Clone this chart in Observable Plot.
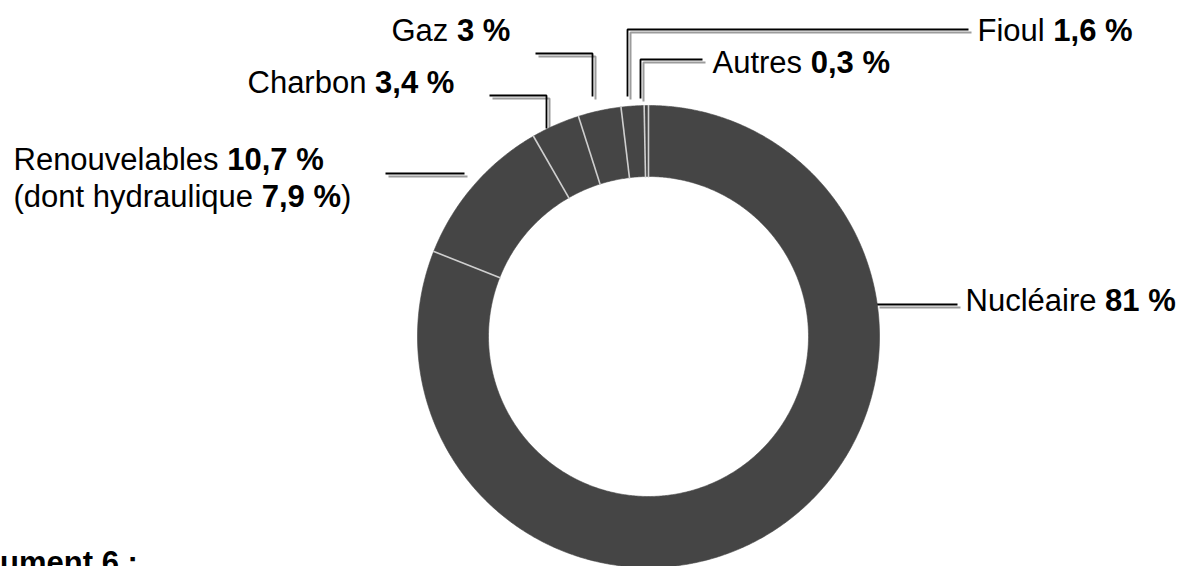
<!DOCTYPE html>
<html>
<head>
<meta charset="utf-8">
<script src="https://cdn.jsdelivr.net/npm/d3@7"></script>
<script src="https://cdn.jsdelivr.net/npm/@observablehq/plot@0.6"></script>
<style>
  html, body { margin: 0; padding: 0; background: #fff; }
  #chart svg { display: block; }
</style>
</head>
<body>
<div id="chart"></div>
<script>
// ---- Data ----
const sources = ["Nucléaire", "Renouvelables", "Charbon", "Gaz", "Fioul", "Autres"];
const shares = [81, 10.7, 3.4, 3, 1.6, 0.3];
const shareLabels = ["81 %", "10,7 %", "3,4 %", "3 %", "1,6 %", "0,3 %"];
const hydroShare = 7.9;
const hydroLabel = "7,9 %";
const captionText = "Document 6 :";

// ---- Layout (pixel frame, y downward) ----
const W = 1183, H = 566;
const CX = 648, CY = 336, R_OUT = 231, R_IN = 160;
const labelLayout = [
  {source: "Nucléaire",     lx: 965, ly: 310, path: [[876, 304], [957, 304]]},
  {source: "Renouvelables", lx: 13,  ly: 206, path: [[385, 173], [464, 173]]},
  {source: "Charbon",       lx: 247, ly: 92,  path: [[489, 95], [546, 95], [546, 128]]},
  {source: "Gaz",           lx: 391, ly: 40,  path: [[535, 53], [592, 53], [592, 96]]},
  {source: "Fioul",         lx: 977, ly: 40,  path: [[968, 29], [627, 29], [627, 96]]},
  {source: "Autres",        lx: 712, ly: 72,  path: [[702, 59], [640, 59], [640, 98]]}
];

// ---- Build ring geometry from the data ----
const total = d3.sum(shares);
const polys = [];
const bounds = [];
let cum = 0;
sources.forEach((s, i) => {
  const a0 = cum / total * 2 * Math.PI;
  bounds.push(a0);
  cum += shares[i];
  const a1 = cum / total * 2 * Math.PI;
  const n = Math.max(2, Math.ceil((a1 - a0) / (Math.PI / 360)));
  for (let k = 0; k <= n; k++) {
    const a = a0 + (a1 - a0) * k / n;
    polys.push({source: s, x: CX + R_OUT * Math.sin(a), y: CY - R_OUT * Math.cos(a)});
  }
  for (let k = n; k >= 0; k--) {
    const a = a0 + (a1 - a0) * k / n;
    polys.push({source: s, x: CX + R_IN * Math.sin(a), y: CY - R_IN * Math.cos(a)});
  }
});
const separators = bounds.map(a => ({
  x1: CX + (R_IN - 1) * Math.sin(a), y1: CY - (R_IN - 1) * Math.cos(a),
  x2: CX + (R_OUT + 0.5) * Math.sin(a), y2: CY - (R_OUT + 0.5) * Math.cos(a)
}));

const leaderPts = labelLayout.flatMap(l => l.path.map(([x, y]) => ({source: l.source, x, y})));
const labelRows = labelLayout.map(l => {
  const i = sources.indexOf(l.source);
  let text = `${sources[i]} ${shareLabels[i]}`;
  if (l.source === "Renouvelables") text += `\n(dont hydraulique ${hydroLabel})`;
  return {lx: l.lx, ly: l.ly, text};
});

const font = "'Liberation Sans', Arial, Helvetica, sans-serif";

const chart = Plot.plot({
  width: W,
  height: H,
  margin: 0,
  x: {domain: [0, W], range: [0, W], axis: null},
  y: {domain: [0, H], range: [0, H], axis: null},
  marks: [
    // leader shadows & leaders
    Plot.line(leaderPts, {x: "x", y: "y", z: "source", stroke: "#9c9c9c", strokeWidth: 2, dx: 3, dy: 3, strokeLinecap: "butt", strokeLinejoin: "miter"}),
    Plot.line(leaderPts, {x: "x", y: "y", z: "source", stroke: "#000", strokeWidth: 1.8, strokeLinecap: "butt", strokeLinejoin: "miter"}),
    // ring shadow
    Plot.line(polys, {x: "x", y: "y", z: "source", fill: "#8a8a8a", stroke: "none", dx: 3, dy: 4, fillOpacity: 0.7, ariaLabel: "ring-shadow"}),
    // ring slices
    Plot.line(polys, {x: "x", y: "y", z: "source", fill: "#454545", stroke: "#454545", strokeWidth: 0.6}),
    // slice separators
    Plot.link(separators, {x1: "x1", y1: "y1", x2: "x2", y2: "y2", stroke: "#cfcfcf", strokeWidth: 1.6}),
    // labels
    Plot.text(labelRows, {x: "lx", y: "ly", text: "text", textAnchor: "start", lineAnchor: "bottom",
      fontSize: 31, fontFamily: font, lineHeight: 1.19, fill: "#000", ariaLabel: "labels"}),
    // caption (cut by the bottom-left edge like the reference)
    Plot.text([captionText], {frameAnchor: "bottom-left", dx: -59, dy: 6, textAnchor: "start", lineAnchor: "bottom",
      fontSize: 31, fontFamily: font, fontWeight: "bold", fill: "#000"})
  ]
});

// blur the ring shadow
const sh = chart.querySelector('g[aria-label="ring-shadow"]');
if (sh) sh.style.filter = "blur(3px)";

// bold the percentage parts of the labels
function boldify(node) {
  [...node.childNodes].forEach(ch => {
    if (ch.nodeType === 3) {
      const parts = ch.data.split(/(\d+(?:,\d+)? %)/);
      if (parts.length > 1) {
        const frag = document.createDocumentFragment();
        parts.forEach((p, j) => {
          if (!p) return;
          if (j % 2 === 1) {
            const t = document.createElementNS("http://www.w3.org/2000/svg", "tspan");
            t.setAttribute("font-weight", "bold");
            t.textContent = p;
            frag.appendChild(t);
          } else {
            frag.appendChild(document.createTextNode(p));
          }
        });
        ch.replaceWith(frag);
      }
    } else if (ch.nodeType === 1) {
      boldify(ch);
    }
  });
}
chart.querySelectorAll("text").forEach(boldify);

document.getElementById("chart").appendChild(chart);
</script>
</body>
</html>
